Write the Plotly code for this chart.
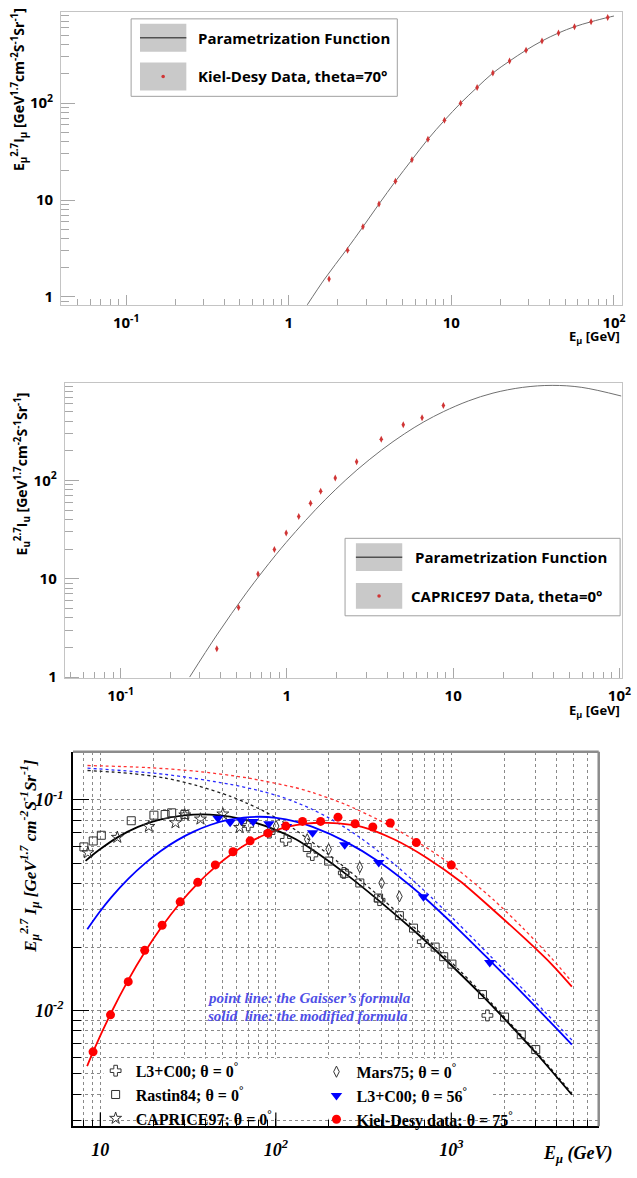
import plotly.graph_objects as go

W, H = 637, 1178


def px(x):
    return x / W


def py(y):
    return 1 - y / H


# ---------------- Panel 1: Kiel-Desy, theta = 70 deg ----------------
kd70_E = [1.77, 2.30, 2.86, 3.59, 4.53, 5.72, 7.18, 9.07, 11.4, 14.4, 18.0, 22.8,
          28.8, 36.1, 45.6, 57.2, 72.3, 91.5]
kd70_I = [1.53, 3.03, 5.29, 9.1, 15.6, 26.0, 42.4, 66.3, 99.8, 145, 204, 271,
          351, 437, 528, 613, 689, 764]
fit70_E = [1.30, 1.66, 2.25, 2.86, 3.59, 4.53, 5.72, 7.18, 9.07, 11.4, 14.4, 18.0,
           22.8, 28.8, 36.1, 45.6, 57.2, 72.3, 91.5, 100]
fit70_I = [0.83, 1.53, 3.03, 5.29, 9.1, 15.6, 26.0, 42.4, 66.3, 99.8, 145, 204,
           271, 351, 437, 528, 613, 689, 764, 790]

# ---------------- Panel 2: CAPRICE97, theta = 0 deg ----------------
cap_E = [0.379, 0.512, 0.670, 0.841, 0.990, 1.178, 1.388, 1.597, 1.953, 2.627,
         3.694, 5.01, 6.50, 8.73]
cap_I = [1.94, 5.09, 11.2, 19.8, 29.2, 43.0, 58.6, 77.4, 106, 155, 262, 368, 433, 578]
fit0_E = [0.260, 0.379, 0.571, 0.860, 1.131, 1.486, 1.953, 2.637, 3.71, 5.08, 6.67,
          8.77, 12.34, 17.36, 26.2, 39.4, 59.4, 102.5]
fit0_I = [1.0, 2.68, 7.19, 17.6, 30.3, 50.4, 80.2, 127.7, 203.7, 297, 394.5, 502,
          643, 773, 884, 926, 884, 722]

# ---------------- Panel 3: muon spectra ----------------
# modified formula (solid) and Gaisser formula (dotted)
mod0_E = [8.24, 9.78, 12.67, 16.4, 21.3, 30.0, 42.2, 54.7, 70.8, 100.4, 130, 161,
          248, 382, 589, 700, 1031, 1520, 2010, 3027, 4864]
mod0_I = [0.05133, 0.05760, 0.06674, 0.07445, 0.08013, 0.08441, 0.08515, 0.08332,
          0.07943, 0.07187, 0.06503, 0.05810, 0.04477, 0.03353, 0.02463, 0.02167,
          0.01600, 0.01163, 0.00912, 0.00630, 0.00398]
gai0_E = [8.45, 14.99, 23.27, 35.66, 54.66, 68.1, 84.9, 104.3, 130, 199.3, 309.3,
          474, 726, 1113, 1728, 3015, 4864]
gai0_I = [0.1379, 0.1334, 0.1271, 0.1168, 0.1042, 0.0966, 0.0886, 0.0807, 0.0718,
          0.0551, 0.0410, 0.0301, 0.02182, 0.01551, 0.01064, 0.00643, 0.00405]

mod56_E = [8.43, 9.78, 11.57, 14.42, 17.97, 22.1, 27.5, 34.3, 42.2, 52.6, 65.5, 80.6,
           100.4, 130, 162, 248, 391, 681, 1071, 1656, 2548, 4864]
mod56_I = [0.02431, 0.02896, 0.03453, 0.04217, 0.04995, 0.05723, 0.06442, 0.07087,
           0.07599, 0.08004, 0.08241, 0.08314, 0.08207, 0.07875, 0.07437, 0.06351,
           0.05055, 0.03514, 0.02476, 0.01731, 0.01206, 0.00689]
gai56_E = [8.45, 23.27, 54.66, 84.9, 104.3, 130, 162, 199.3, 248, 309.3, 380, 474,
           681, 1071, 1663, 2548, 4864]
gai56_I = [0.1415, 0.1322, 0.1187, 0.1094, 0.1041, 0.0974, 0.0900, 0.0823, 0.0739,
           0.0653, 0.0574, 0.0495, 0.0379, 0.02633, 0.01819, 0.01267, 0.00724]

mod75_E = [8.41, 9.09, 11.43, 14.42, 17.89, 22.5, 28.4, 35.8, 45.2, 57.0, 71.7, 90.5,
           114.3, 148, 199.3, 309.3, 474, 726, 1128, 1728, 2649, 3756, 4864]
mod75_I = [0.00544, 0.00636, 0.00962, 0.01394, 0.0189, 0.02509, 0.03228, 0.04003,
           0.04808, 0.05597, 0.06324, 0.06941, 0.07421, 0.07716, 0.07775, 0.07445,
           0.06483, 0.05302, 0.04095, 0.03008, 0.02180, 0.01648, 0.01298]
gai75_E = [8.45, 18.67, 35.66, 68.1, 130, 162, 248, 380, 590.6, 991, 1728, 2548, 3756, 4864]
gai75_I = [0.1456, 0.1423, 0.1366, 0.1273, 0.1142, 0.1083, 0.0953, 0.0807, 0.0659,
           0.0495, 0.0337, 0.0247, 0.01757, 0.01369]

# measured data
l3_0_E = [69.6, 92.0, 114, 161.4, 244, 390, 688, 1606]
l3_0_I = [0.0756, 0.0699, 0.0643, 0.0547, 0.0450, 0.0334, 0.0212, 0.00947]

rastin_E = [8.06, 9.11, 10.13, 15.0, 20.2, 23.4, 25.5, 30.3, 151, 200, 246, 301, 385,
            506, 609, 809, 905, 1008, 1505, 2011, 2505, 3027]
rastin_I = [0.0598, 0.0638, 0.0679, 0.0796, 0.0846, 0.0852, 0.0868, 0.0852, 0.0594,
            0.0512, 0.0448, 0.0403, 0.0342, 0.0282, 0.0246, 0.0200, 0.0180, 0.0166,
            0.0119, 0.00930, 0.00767, 0.00652]

caprice_E = [8.49, 12.5, 18.9, 26.8, 30.3, 37.2, 49.9, 62.2]
caprice_I = [0.0561, 0.0664, 0.0748, 0.0779, 0.0848, 0.0811, 0.0857, 0.0740]

mars_E = [100.4, 151, 200, 301, 401, 506]
mars_I = [0.0751, 0.0650, 0.0583, 0.0479, 0.0403, 0.0348]

l3_56_E = [46.8, 54.9, 63.8, 74.3, 91.3, 115, 162, 247, 386, 694, 1656]
l3_56_I = [0.0819, 0.0783, 0.0795, 0.0790, 0.0770, 0.0748, 0.0699, 0.0613, 0.0504,
           0.0347, 0.0169]

kd75_E = [9.09, 11.43, 14.42, 17.9, 22.5, 28.5, 35.9, 45.2, 57.0, 71.4, 90.2, 114,
          142, 180, 226, 283, 357, 449, 632, 1000]
kd75_I = [0.00636, 0.00953, 0.0137, 0.0193, 0.0254, 0.0328, 0.0406, 0.0491, 0.0567,
          0.0639, 0.0695, 0.0751, 0.0790, 0.0790, 0.0828, 0.0770, 0.0743, 0.0777,
          0.0627, 0.0490]

# tick labels
top_xticks = [0.1, 1, 10, 100]
top_xtext = ["10<sup>-1</sup>", "1", "10", "10<sup>2</sup>"]
top_yticks = [1, 10, 100]
top_ytext = ["1", "10", "10<sup>2</sup>"]
bot_xticks = [10, 100, 1000]
bot_xtext = ["10", "10<sup>2</sup>", "10<sup>3</sup>"]
bot_yticks = [0.01, 0.1]
bot_ytext = ["10<sup>-2</sup>", "10<sup>-1</sup>"]

SANS = "Open Sans"
SERIF = "Liberation Serif"
RED_PT = "#d03535"

fig = go.Figure()

# ---- panel 1 ----
fig.add_trace(go.Scatter(x=fit70_E, y=fit70_I, mode="lines",
                         line=dict(color="#707070", width=1, shape="spline"),
                         xaxis="x", yaxis="y", showlegend=False, hoverinfo="skip"))
fig.add_trace(go.Scatter(x=kd70_E, y=kd70_I, mode="markers",
                         marker=dict(symbol="diamond-tall", size=5, color=RED_PT),
                         xaxis="x", yaxis="y", showlegend=False))
# ---- panel 2 ----
fig.add_trace(go.Scatter(x=fit0_E, y=fit0_I, mode="lines",
                         line=dict(color="#707070", width=1, shape="spline"),
                         xaxis="x2", yaxis="y2", showlegend=False, hoverinfo="skip"))
fig.add_trace(go.Scatter(x=cap_E, y=cap_I, mode="markers",
                         marker=dict(symbol="diamond-tall", size=5, color=RED_PT),
                         xaxis="x2", yaxis="y2", showlegend=False))

# ---- panel 3 curves ----
curves = [
    (gai0_E, gai0_I, "#202020", "dot", 1.3),
    (gai56_E, gai56_I, "#2a2aff", "dot", 1.3),
    (gai75_E, gai75_I, "#ff3030", "dot", 1.3),
    (mod0_E, mod0_I, "black", "solid", 1.8),
    (mod56_E, mod56_I, "#0000ff", "solid", 1.8),
    (mod75_E, mod75_I, "#ff0000", "solid", 1.8),
]
for ex, iy, col, dash, wd in curves:
    fig.add_trace(go.Scatter(x=ex, y=iy, mode="lines",
                             line=dict(color=col, width=wd, dash=dash, shape="spline",
                                       smoothing=0.8),
                             xaxis="x3", yaxis="y3", showlegend=False, hoverinfo="skip"))

OPEN = "#333333"
series = [
    (l3_0_E, l3_0_I, "L3+C00; θ = 0<sup>°</sup>",
     dict(symbol="cross-open", size=9, color=OPEN, line=dict(width=1, color=OPEN)), "legend"),
    (rastin_E, rastin_I, "Rastin84; θ = 0<sup>°</sup>",
     dict(symbol="square-open", size=8, color=OPEN, line=dict(width=1, color=OPEN)), "legend"),
    (caprice_E, caprice_I, "CAPRICE97; θ = 0<sup>°</sup>",
     dict(symbol="star-open", size=9, color=OPEN, line=dict(width=1, color=OPEN)), "legend"),
    (mars_E, mars_I, "Mars75; θ = 0<sup>°</sup>",
     dict(symbol="diamond-tall-open", size=8, color=OPEN, line=dict(width=1, color=OPEN)), "legend2"),
    (l3_56_E, l3_56_I, "L3+C00; θ = 56<sup>°</sup>",
     dict(symbol="triangle-down", size=10, color="#0000ff"), "legend2"),
    (kd75_E, kd75_I, "Kiel-Desy data; θ = 75<sup>°</sup>",
     dict(symbol="circle", size=9, color="#ff0000"), "legend2"),
]
for ex, iy, name, mk, lg in series:
    fig.add_trace(go.Scatter(x=ex, y=iy, mode="markers", name=name, marker=mk,
                             xaxis="x3", yaxis="y3", legend=lg, showlegend=True))

# ---------------- axes ----------------
top_tick_font = dict(family=SANS, size=15, color="black", weight="bold")


def top_x(domain, rng):
    return dict(type="log", domain=domain, range=rng, showline=True, mirror=True,
                linecolor="#c4c4c4", linewidth=1, ticks="inside", ticklen=10,
                tickcolor="#a8a8a8", tickwidth=1, tickmode="array",
                tickvals=top_xticks, ticktext=top_xtext, tickfont=top_tick_font,
                showgrid=False, zeroline=False, ticklabelstandoff=4,
                minor=dict(ticks="inside", ticklen=6, tickcolor="#a8a8a8",
                           dtick="D1", showgrid=False))


def top_y(domain, rng):
    return dict(type="log", domain=domain, range=rng, showline=True, mirror=True,
                linecolor="#c4c4c4", linewidth=1, ticks="inside", ticklen=14,
                tickcolor="#a8a8a8", tickwidth=1, tickmode="array",
                tickvals=top_yticks, ticktext=top_ytext, tickfont=top_tick_font,
                showgrid=False, zeroline=False, ticklabelstandoff=4,
                minor=dict(ticks="inside", ticklen=8, tickcolor="#a8a8a8",
                           dtick="D1", showgrid=False))


bot_font = dict(family=SERIF, size=18, color="black", weight="bold", style="italic")
leg_font = dict(family=SERIF, size=16, color="black", weight="bold")
MAJ_X_TICK = 14

fig.update_layout(
    width=W, height=H, margin=dict(l=0, r=0, t=0, b=0),
    paper_bgcolor="white", plot_bgcolor="white",
    xaxis=dict(top_x([px(62), px(631)], [-1.4, 2.05]), anchor="y"),
    yaxis=dict(top_y([py(307), py(12)], [-0.082, 2.94]), anchor="x"),
    xaxis2=dict(top_x([px(65.7), px(631)], [-1.336, 2.016]), anchor="y2"),
    yaxis2=dict(top_y([py(683), py(386)], [-0.013, 2.987]), anchor="x2"),
    xaxis3=dict(type="log", domain=[px(74), px(607.3)], range=[0.844, 3.84],
                anchor="y3", showline=True, linecolor="black", linewidth=1.5,
                ticks="inside", ticklen=MAJ_X_TICK, tickwidth=1.2, tickcolor="black",
                tickmode="array", tickvals=bot_xticks, ticktext=bot_xtext,
                tickfont=bot_font, showgrid=True, gridcolor="#8a8a8a",
                griddash="dot", gridwidth=1, zeroline=False, ticklabelstandoff=6,
                minor=dict(ticks="inside", ticklen=7, tickcolor="black",
                           dtick="D1", showgrid=True, gridcolor="#8a8a8a",
                           griddash="dot", gridwidth=1)),
    yaxis3=dict(type="log", domain=[py(1134), py(757)], range=[-2.55, -0.772],
                anchor="x3", showline=True, linecolor="black", linewidth=1.5,
                ticks="inside", ticklen=16, tickwidth=1.2, tickcolor="black",
                tickmode="array", tickvals=bot_yticks, ticktext=bot_ytext,
                tickfont=bot_font, showgrid=True, gridcolor="#8a8a8a",
                griddash="dot", gridwidth=1, zeroline=False, ticklabelstandoff=4,
                minor=dict(ticks="inside", ticklen=8, tickcolor="black",
                           dtick="D1", showgrid=True, gridcolor="#8a8a8a",
                           griddash="dot", gridwidth=1)),
    legend=dict(x=px(97), y=py(1061), xanchor="left", yanchor="top",
                bgcolor="rgba(0,0,0,0)", borderwidth=0, font=leg_font),
    legend2=dict(x=px(321), y=py(1062), xanchor="left", yanchor="top",
                 bgcolor="rgba(0,0,0,0)", borderwidth=0, font=leg_font),
)

# ---------------- decorations ----------------
shapes = []
annotations = []
SW_FILL = "#c9c9c9"

# white area behind the legend of panel 3 (hides the grid there)
shapes.append(dict(type="rect", xref="paper", yref="paper",
                   x0=px(105), x1=px(500), y0=py(1126.5), y1=py(1066),
                   line=dict(width=0), fillcolor="white", layer="above"))
# restore the long major x ticks of panel 3 that the white area overlaps
for tv in bot_xticks:
    shapes.append(dict(type="line", xref="x3", yref="y3 domain", x0=tv, x1=tv,
                       y0=0, y1=MAJ_X_TICK / 377, line=dict(color="black", width=1.2),
                       layer="above"))


def add_box_legend(box, sw_x, row1, row2, texts, text_x):
    shapes.append(dict(type="rect", xref="paper", yref="paper",
                       x0=px(box[0]), x1=px(box[1]), y0=py(box[3]), y1=py(box[2]),
                       line=dict(color="#a0a0a0", width=1), fillcolor="white", layer="above"))
    for r in (row1, row2):
        shapes.append(dict(type="rect", xref="paper", yref="paper",
                           x0=px(sw_x[0]), x1=px(sw_x[1]), y0=py(r[1]), y1=py(r[0]),
                           line=dict(width=0), fillcolor=SW_FILL, layer="above"))
    yc1 = (row1[0] + row1[1]) / 2
    yc2 = (row2[0] + row2[1]) / 2
    shapes.append(dict(type="line", xref="paper", yref="paper",
                       x0=px(sw_x[0]), x1=px(sw_x[1]), y0=py(yc1), y1=py(yc1),
                       line=dict(color="#505050", width=1.5), layer="above"))
    cx = (sw_x[0] + sw_x[1]) / 2
    shapes.append(dict(type="circle", xref="paper", yref="paper",
                       x0=px(cx - 1.8), x1=px(cx + 1.8), y0=py(yc2 + 1.8), y1=py(yc2 - 1.8),
                       line=dict(width=0), fillcolor=RED_PT, layer="above"))
    for t, tx, yc in ((texts[0], text_x[0], yc1), (texts[1], text_x[1], yc2)):
        annotations.append(dict(xref="paper", yref="paper", x=px(tx), y=py(yc),
                                xanchor="left", yanchor="middle", showarrow=False, text=t,
                                font=dict(family=SANS, size=15, color="black", weight="bold")))


add_box_legend((133, 403, 19, 97), (142, 189), (24, 52), (63, 91),
               ("Parametrization Function", "Kiel-Desy Data, theta=70°"), (199, 199))
add_box_legend((350, 629, 542, 620), (361, 408), (547, 575), (587, 613),
               ("Parametrization Function", "CAPRICE97 Data, theta=0°"), (419, 415))

# axis titles for panels 1 and 2
annotations.append(dict(xref="paper", yref="paper", x=px(20), y=py(90), textangle=-90,
                        showarrow=False, xanchor="center", yanchor="middle",
                        text="E<sub>μ</sub><sup>2.7</sup>I<sub>μ</sub> [GeV<sup>1.7</sup>cm<sup>-2</sup>S<sup>-1</sup>Sr<sup>-1</sup>]",
                        font=dict(family=SANS, size=14, color="black", weight="bold")))
annotations.append(dict(xref="paper", yref="paper", x=px(22), y=py(477), textangle=-90,
                        showarrow=False, xanchor="center", yanchor="middle",
                        text="E<sub>u</sub><sup>2.7</sup>I<sub>u</sub> [GeV<sup>1.7</sup>cm<sup>-2</sup>S<sup>-1</sup>Sr<sup>-1</sup>]",
                        font=dict(family=SANS, size=14, color="black", weight="bold")))
for yy in (339, 716):
    annotations.append(dict(xref="paper", yref="paper", x=px(603), y=py(yy),
                            showarrow=False, xanchor="center", yanchor="middle",
                            text="E<sub>μ</sub> [GeV]",
                            font=dict(family=SANS, size=13, color="black", weight="bold")))

# panel 3 titles and notes
annotations.append(dict(xref="paper", yref="paper", x=px(30), y=py(862), textangle=-90,
                        showarrow=False, xanchor="center", yanchor="middle",
                        text="E<sub>μ</sub><sup>2.7</sup> I<sub>μ</sub> [GeV<sup>1.7</sup> cm<sup>-2</sup>S<sup>-1</sup>Sr<sup>-1</sup>]",
                        font=dict(family=SERIF, size=17, color="black", weight="bold", style="italic")))
annotations.append(dict(xref="paper", yref="paper", x=px(586), y=py(1162),
                        showarrow=False, xanchor="center", yanchor="middle",
                        text="E<sub>μ</sub> (GeV)",
                        font=dict(family=SERIF, size=18, color="black", weight="bold", style="italic")))
for t, yy in (("point line: the Gaisser’s formula", 1005),
              ("solid\u00a0 line: the modified formula", 1023)):
    annotations.append(dict(xref="paper", yref="paper", x=px(208), y=py(yy),
                            showarrow=False, xanchor="left", yanchor="middle", text=t,
                            font=dict(family=SERIF, size=15, color="#4f4fe6", weight="bold", style="italic")))

# grey top / right frame of panel 3
shapes.append(dict(type="line", xref="x3 domain", yref="y3 domain", x0=0, x1=1, y0=1, y1=1,
                   line=dict(color="#8c8c8c", width=2.5)))
shapes.append(dict(type="line", xref="x3 domain", yref="y3 domain", x0=1, x1=1, y0=0, y1=1,
                   line=dict(color="#8c8c8c", width=2.5)))

fig.update_layout(shapes=shapes, annotations=annotations)
fig.write_html("out.html")
